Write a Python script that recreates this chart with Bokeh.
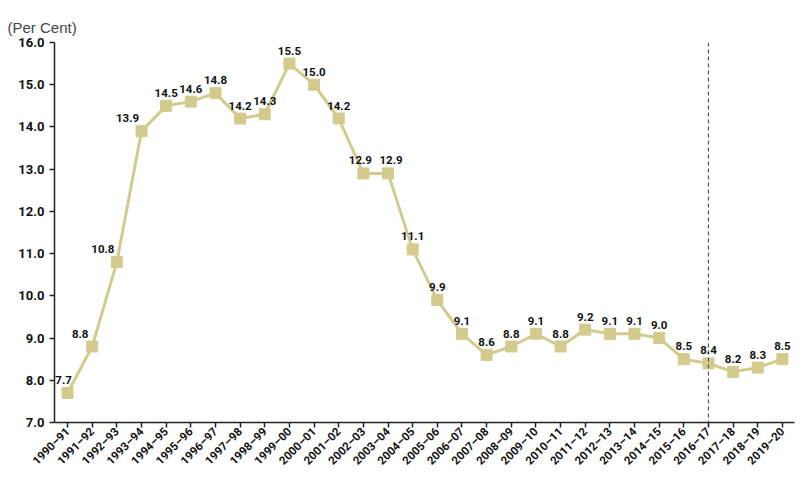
from bokeh.plotting import figure
from bokeh.models import Range1d, FixedTicker, Span, ColumnDataSource, LabelSet
from bokeh.core.properties import value
from bokeh.embed import file_html
from bokeh.resources import INLINE

years = ["1990\u201391", "1991\u201392", "1992\u201393", "1993\u201394", "1994\u201395", "1995\u201396",
         "1996\u201397", "1997\u201398", "1998\u201399", "1999\u201300",
         "2000\u201301", "2001\u201302", "2002\u201303", "2003\u201304", "2004\u201305", "2005\u201306",
         "2006\u201307", "2007\u201308", "2008\u201309", "2009\u201310", "2010\u201311", "2011\u201312",
         "2012\u201313", "2013\u201314", "2014\u201315", "2015\u201316", "2016\u201317", "2017\u201318",
         "2018\u201319", "2019\u201320"]
values = [7.7, 8.8, 10.8, 13.9, 14.5, 14.6, 14.8, 14.2, 14.3, 15.5, 15.0, 14.2, 12.9, 12.9, 11.1,
          9.9, 9.1, 8.6, 8.8, 9.1, 8.8, 9.2, 9.1, 9.1, 9.0, 8.5, 8.4, 8.2, 8.3, 8.5]
y_ticks = [7.0, 8.0, 9.0, 10.0, 11.0, 12.0, 13.0, 14.0, 15.0, 16.0]
divider_year = "2016\u201317"
unit_label = "(Per Cent)"

FONT = "Arial"
BOLD_FONT = "Roboto"

xs = list(range(len(years)))
labels = ["%.1f" % v for v in values]
# label offsets (styling): first few points have labels to the left
x_off = [0 for i in xs]
x_off[0] = -4
x_off[1] = -12
x_off[2] = -14
x_off[3] = -14
x_off[12] = -3
x_off[13] = 3

src = ColumnDataSource(dict(x=xs, y=values, lab=labels, xo=x_off))

p = figure(width=798, height=475, output_backend="svg", toolbar_location=None,
           title=unit_label,
           x_range=Range1d(-0.53, len(years) - 1 + 0.49), y_range=Range1d(7.0, 16.0),
           min_border_left=54, min_border_right=4, min_border_top=42, min_border_bottom=53)
p.outline_line_color = None
p.xgrid.grid_line_color = None
p.ygrid.grid_line_color = None
p.background_fill_color = "white"

p.title.text_font = FONT
p.title.text_font_size = "15px"
p.title.text_font_style = "normal"
p.title.text_color = "#444444"
p.title.align = "left"
p.title.offset = -47
p.title.standoff = 14

color = "#D3CB8E"
p.line(xs, values, line_color=color, line_width=3)
p.scatter("x", "y", source=src, marker="square", size=11, fill_color=color, line_color=color)

p.add_layout(Span(location=years.index(divider_year), dimension="height", line_color="#555555",
                  line_dash="4 3", line_width=1.2))

lbl = LabelSet(x="x", y="y", text="lab", source=src, x_offset="xo", y_offset=9,
               text_align="center", text_baseline="bottom", text_font_size="11.5px",
               text_font=value(BOLD_FONT), text_font_style="bold", text_color="#111111")
p.add_layout(lbl)

p.xaxis.ticker = FixedTicker(ticks=xs)
p.xaxis.major_label_overrides = {i: y for i, y in enumerate(years)}
p.xaxis.major_label_orientation = 0.785
p.xaxis.major_label_text_font = BOLD_FONT
p.xaxis.major_label_text_font_style = "bold"
p.xaxis.major_label_text_font_size = "11.5px"
p.xaxis.major_label_text_color = "#111111"
p.xaxis.major_label_standoff = 2
p.xaxis.minor_tick_line_color = None
p.xaxis.major_tick_in = 0
p.xaxis.major_tick_out = 5
p.xaxis.axis_line_width = 1.5
p.xaxis.major_tick_line_width = 1.5
p.xaxis.axis_line_color = "#222222"
p.xaxis.major_tick_line_color = "#222222"

p.yaxis.ticker = FixedTicker(ticks=y_ticks)
p.yaxis.major_label_overrides = {t: "%.1f" % t for t in y_ticks}
p.yaxis.major_label_text_font = BOLD_FONT
p.yaxis.major_label_text_font_style = "bold"
p.yaxis.major_label_text_font_size = "13px"
p.yaxis.major_label_text_color = "#111111"
p.yaxis.minor_tick_line_color = None
p.yaxis.major_tick_in = 0
p.yaxis.major_tick_out = 5
p.yaxis.axis_line_width = 1.5
p.yaxis.major_tick_line_width = 1.5
p.yaxis.axis_line_color = "#222222"
p.yaxis.major_tick_line_color = "#222222"

open("out.html", "w").write(file_html(p, INLINE))
